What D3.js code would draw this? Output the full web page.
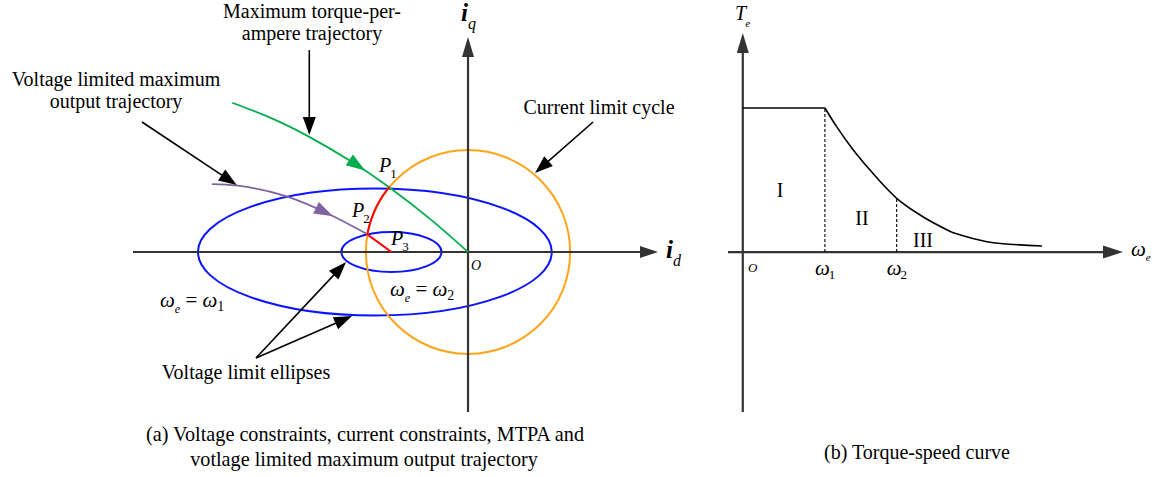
<!DOCTYPE html>
<html>
<head>
<meta charset="utf-8">
<script src="https://cdn.jsdelivr.net/npm/d3@7"></script>
<style>
  body { margin: 0; background: #fff; }
  text { font-family: "Liberation Serif", "Times New Roman", serif; fill: #000; }
</style>
</head>
<body>
<svg id="chart" width="1173" height="477"></svg>
<script>
// ---------- (a) id-iq current plane, per unit of the current limit ----------
const idExtent = [-3.28, 1.86];
const iqExtent = [-1.57, 2.11];
const currentLimit = 1.0;

// voltage limit ellipses for two speeds (omega1 = outer, omega2 = inner)
const ellipseCenter = [-0.912, -0.75];
const ellipseRx = [1.732, 0.49];
const ellipseRy = [0.623, 0.196];

// maximum torque-per-ampere trajectory
const mtpaId = [-2.308, -1.938, -1.563, -1.139, -0.772, -0.372, 0];
const mtpaIq = [1.465, 1.319, 1.135, 0.886, 0.636, 0.325, 0];

// voltage limited maximum output trajectory
const vlmoId = [-2.507, -2.255, -1.792, -1.324, -0.990];
const vlmoIq = [0.667, 0.652, 0.550, 0.353, 0.176];

// operating points P1, P2, P3
const pointNames = ["1", "2", "3"];
const pointId = [-0.772, -0.990, -0.75];
const pointIq = [0.636, 0.176, 0];

// ---------- (b) torque-speed curve, per unit of omega1 and rated torque ----------
const omegaExtent = [-0.18, 4.63];
const torqueExtent = [-1.11, 1.52];
const omegaFlat = [0, 1];
const torqueFlat = [1, 1];
const omegaFall = [1, 1.143, 1.346, 1.549, 1.874, 2.159, 2.545];
const torqueFall = [1, 0.870, 0.708, 0.569, 0.373, 0.257, 0.137];
const omegaTail = [2.545, 2.972, 3.643];
const torqueTail = [0.137, 0.072, 0.042];
const omegaMarks = [1, 1.874];
const omegaMarkNames = ["1", "2"];
const regionNames = ["I", "II", "III"];

const svg = d3.select("#chart");
const AXIS = "#333";

// filled triangular arrowhead with its tip at (x, y) pointing along angle a
function arrowHead(g, x, y, a, len, wid, color) {
  const bx = x - len * Math.cos(a), by = y - len * Math.sin(a);
  const nx = -Math.sin(a) * wid / 2, ny = Math.cos(a) * wid / 2;
  g.append("path")
    .attr("d", `M${x},${y}L${bx + nx},${by + ny}L${bx - nx},${by - ny}Z`)
    .attr("fill", color);
}
function arrow(g, x1, y1, x2, y2, color, sw, len, wid) {
  const a = Math.atan2(y2 - y1, x2 - x1);
  g.append("line")
    .attr("x1", x1).attr("y1", y1)
    .attr("x2", x2 - (len - 2) * Math.cos(a)).attr("y2", y2 - (len - 2) * Math.sin(a))
    .attr("stroke", color).attr("stroke-width", sw);
  arrowHead(g, x2, y2, a, len, wid, color);
}
function txt(g, x, y, s, size, opt = {}) {
  return g.append("text")
    .attr("x", x).attr("y", y)
    .attr("font-size", size)
    .attr("font-style", opt.italic ? "italic" : "normal")
    .attr("font-weight", opt.bold ? "bold" : "normal")
    .attr("text-anchor", opt.anchor || "start")
    .text(s);
}
// symbol with a subscript, kept as one text element
function subLabel(g, x, y, main, sub, size, subSize, o = {}) {
  const t = g.append("text").attr("x", x).attr("y", y).attr("font-size", size);
  t.append("tspan").attr("font-style", "italic")
    .attr("font-weight", o.bold ? "bold" : "normal").text(main);
  t.append("tspan").attr("font-size", subSize)
    .attr("font-style", o.subItalic ? "italic" : "normal")
    .attr("dx", o.dx || 0).attr("dy", o.dy || 6).text(sub);
  return t;
}
// arrowhead placed on a drawn path near a given x pixel
function arrowOnPath(g, pathNode, targetX, color, len, wid) {
  const total = pathNode.getTotalLength();
  let best = 0, bestD = Infinity;
  for (let l = 0; l <= total; l += 0.5) {
    const p = pathNode.getPointAtLength(l);
    const d = Math.abs(p.x - targetX);
    if (d < bestD) { bestD = d; best = l; }
  }
  const p = pathNode.getPointAtLength(best);
  const p0 = pathNode.getPointAtLength(Math.max(0, best - 2));
  const p1 = pathNode.getPointAtLength(Math.min(total, best + 2));
  arrowHead(g, p.x, p.y, Math.atan2(p1.y - p0.y, p1.x - p0.x), len, wid, color);
}

// ================= (a) =================
const x = d3.scaleLinear().domain(idExtent).range([133, 658]);
const y = d3.scaleLinear().domain(iqExtent).range([412, 37]);
const ga = svg.append("g");

// voltage limit ellipses
ellipseCenter.forEach((c, i) => {
  ga.append("ellipse")
    .attr("cx", x(c)).attr("cy", y(0))
    .attr("rx", x(c + ellipseRx[i]) - x(c))
    .attr("ry", y(0) - y(ellipseRy[i]))
    .attr("fill", "none").attr("stroke", "#0a14ff").attr("stroke-width", 2);
});
// current limit circle
ga.append("ellipse")
  .attr("cx", x(0)).attr("cy", y(0))
  .attr("rx", x(currentLimit) - x(0)).attr("ry", y(0) - y(currentLimit))
  .attr("fill", "none").attr("stroke", "#ffa319").attr("stroke-width", 2);

// axes
arrow(ga, x(idExtent[0]), y(0), x(idExtent[1]), y(0), AXIS, 2.2, 18, 12);
arrow(ga, x(0), y(iqExtent[0]), x(0), y(iqExtent[1]), AXIS, 2.2, 20, 12);

const curve = d3.line().x(d => x(d[0])).y(d => y(d[1])).curve(d3.curveNatural);

// MTPA trajectory
const mtpaPath = ga.append("path")
  .datum(mtpaId.map((v, i) => [v, mtpaIq[i]]))
  .attr("d", curve)
  .attr("fill", "none").attr("stroke", "#00ad4e").attr("stroke-width", 1.8);
arrowOnPath(ga, mtpaPath.node(), x(-1.008), "#00ad4e", 19, 13);

// voltage limited maximum output trajectory
const vlmoPath = ga.append("path")
  .datum(vlmoId.map((v, i) => [v, vlmoIq[i]]))
  .attr("d", curve)
  .attr("fill", "none").attr("stroke", "#8064a2").attr("stroke-width", 1.8);
arrowOnPath(ga, vlmoPath.node(), x(-1.322), "#8064a2", 19, 13);

// operating path P1 -> P2 along the current limit, then P2 -> P3
const a1 = Math.atan2(pointIq[0], pointId[0]);
const a2 = Math.atan2(pointIq[1], pointId[1]);
const arcPts = d3.range(0, 1.0001, 0.02).map(t => {
  const a = a1 + (a2 - a1) * t;
  return [currentLimit * Math.cos(a), currentLimit * Math.sin(a)];
});
ga.append("path").datum(arcPts)
  .attr("d", d3.line().x(d => x(d[0])).y(d => y(d[1])))
  .attr("fill", "none").attr("stroke", "#ff0000").attr("stroke-width", 2);
ga.append("line")
  .attr("x1", x(pointId[1])).attr("y1", y(pointIq[1]))
  .attr("x2", x(pointId[2])).attr("y2", y(pointIq[2]))
  .attr("stroke", "#ff0000").attr("stroke-width", 2);

// annotation arrows
arrow(ga, x(-1.554), y(1.982), x(-1.554), y(1.148), "#000", 1.6, 18, 13);
arrow(ga, x(-3.192), y(1.276), x(-2.265), y(0.658), "#000", 1.6, 18, 13);
arrow(ga, x(1.224), y(1.276), x(0.656), y(0.775), "#000", 1.6, 18, 13);
arrow(ga, x(-2.076), y(-1.040), x(-1.194), y(-0.098), "#000", 1.6, 18, 13);
arrow(ga, x(-2.076), y(-1.040), x(-1.136), y(-0.628), "#000", 1.6, 18, 13);

// text
txt(ga, 312, 18, "Maximum torque-per-", 20, { anchor: "middle" });
txt(ga, 312, 40, "ampere trajectory", 20, { anchor: "middle" });
txt(ga, 116, 86, "Voltage limited maximum", 20, { anchor: "middle" });
txt(ga, 116, 108, "output trajectory", 20, { anchor: "middle" });
txt(ga, 599, 114, "Current limit cycle", 20, { anchor: "middle" });
txt(ga, 246, 379, "Voltage limit ellipses", 20, { anchor: "middle" });
txt(ga, 365, 441, "(a) Voltage constraints, current constraints, MTPA and", 20.2, { anchor: "middle" });
txt(ga, 364, 466, "votlage limited maximum output trajectory", 20.2, { anchor: "middle" });

subLabel(ga, 461, 21, "i", "q", 25, 16, { bold: true, subItalic: true, dx: 0, dy: 8 });
subLabel(ga, 666, 258, "i", "d", 25, 16, { bold: true, subItalic: true, dx: 0, dy: 8 });
txt(ga, 471, 270, "O", 14, { italic: true });

const pLabelPos = [[379, 172], [352, 217], [391, 245]];
pointNames.forEach((n, i) => {
  const [px, py] = pLabelPos[i];
  subLabel(ga, px, py, "P", n, 20, 13, { dx: -1, dy: 6 });
});

function omegaEq(g, px, py, sub) {
  const t = g.append("text").attr("x", px).attr("y", py).attr("font-size", 21);
  t.append("tspan").attr("font-style", "italic").text("ω");
  t.append("tspan").attr("font-style", "italic").attr("font-size", 12).attr("dy", 6).text("e");
  t.append("tspan").attr("dy", -6).text(" = ");
  t.append("tspan").attr("font-style", "italic").text("ω");
  t.append("tspan").attr("font-size", 14).attr("dy", 4).text(sub);
}
omegaEq(ga, 160, 307, "1");
omegaEq(ga, 390, 296, "2");

// ================= (b) =================
const w = d3.scaleLinear().domain(omegaExtent).range([728, 1123]);
const T = d3.scaleLinear().domain(torqueExtent).range([412, 33]);
const gb = svg.append("g");

arrow(gb, w(omegaExtent[0]), T(0), w(omegaExtent[1]), T(0), AXIS, 2.2, 20, 13);
arrow(gb, w(0), T(torqueExtent[0]), w(0), T(torqueExtent[1]), AXIS, 2.2, 20, 12);

const lineB = d3.line().x(d => w(d[0])).y(d => T(d[1])).curve(d3.curveMonotoneX);
[[omegaFlat, torqueFlat], [omegaFall, torqueFall], [omegaTail, torqueTail]].forEach(([ws, ts]) => {
  gb.append("path").datum(ws.map((v, i) => [v, ts[i]]))
    .attr("d", lineB)
    .attr("fill", "none").attr("stroke", "#000").attr("stroke-width", 1.6);
});

// dashed boundaries between the operating regions
const torqueAt = om => {
  const i = omegaFall.indexOf(om);
  return i >= 0 ? torqueFall[i] : 1;
};
omegaMarks.forEach((om, i) => {
  gb.append("line")
    .attr("x1", w(om)).attr("x2", w(om))
    .attr("y1", T(0)).attr("y2", T(torqueAt(om)))
    .attr("stroke", "#000").attr("stroke-width", 1.1).attr("stroke-dasharray", "3,2");
  subLabel(gb, w(om) - 10, 275, "ω", omegaMarkNames[i], 21, 13, { dx: -1, dy: 4 });
});

const regionPos = [[780, 197], [862, 225], [923, 247]];
regionNames.forEach((r, i) => txt(gb, regionPos[i][0], regionPos[i][1], r, 20, { anchor: "middle" }));

subLabel(gb, 735, 20, "T", "e", 20, 11, { subItalic: true, dx: -1, dy: 7 });
subLabel(gb, 1131, 256, "ω", "e", 21, 11, { subItalic: true, dx: 0, dy: 5 });
txt(gb, 748, 272, "O", 13, { italic: true });
txt(gb, 917, 459, "(b) Torque-speed curve", 20, { anchor: "middle" });
</script>
</body>
</html>
